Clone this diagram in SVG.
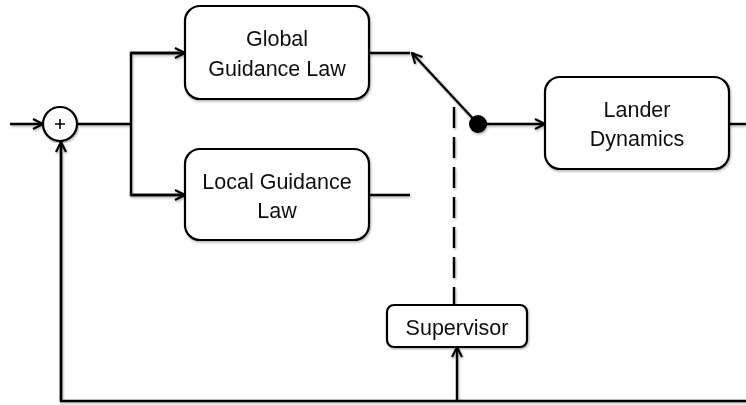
<svg xmlns="http://www.w3.org/2000/svg" width="746" height="405" viewBox="0 0 746 405">
<defs>
<marker id="arr" viewBox="0 0 12 12" refX="11" refY="6" markerWidth="12" markerHeight="12" markerUnits="userSpaceOnUse" orient="auto">
<path d="M1,1 L11,6 L1,11" fill="none" stroke="#000" stroke-width="2.2"/>
</marker>
<filter id="sh" x="-5%" y="-5%" width="110%" height="110%">
<feDropShadow dx="1" dy="1.5" stdDeviation="1" flood-color="#000" flood-opacity="0.3"/>
</filter>
</defs>
<style>
.box{fill:#fff;stroke:#000;stroke-width:2.2}
.ln{fill:none;stroke:#000;stroke-width:2.4}
.t{font-family:"Liberation Sans",Arial,sans-serif;font-size:21.5px;fill:#111;text-anchor:middle}
</style>
<rect width="746" height="405" fill="#fff"/>
<g id="connectors" filter="url(#sh)">
<line class="ln" x1="10" y1="124" x2="43" y2="124" marker-end="url(#arr)"/>
<polyline class="ln" points="77,124 131,124"/>
<polyline class="ln" points="185,53 131,53 131,195 185,195"/>
<line class="ln" x1="131" y1="53" x2="185" y2="53" marker-end="url(#arr)"/>
<line class="ln" x1="131" y1="195" x2="185" y2="195" marker-end="url(#arr)"/>
<line class="ln" x1="369" y1="53" x2="410" y2="53"/>
<line class="ln" x1="369" y1="195" x2="410" y2="195"/>
<line class="ln" x1="478" y1="124" x2="412" y2="53" marker-end="url(#arr)"/>
<line class="ln" x1="478" y1="124" x2="545" y2="124" marker-end="url(#arr)"/>
<line class="ln" x1="729" y1="124" x2="746" y2="124"/>
<polyline class="ln" points="746,401 61,401 61,142"/>
<line class="ln" x1="61" y1="401" x2="61" y2="142" marker-end="url(#arr)"/>
<line class="ln" x1="457" y1="401" x2="457" y2="347" marker-end="url(#arr)"/>
<line class="ln" x1="454" y1="107" x2="454" y2="305" stroke-dasharray="21,9"/>
<circle cx="478" cy="124" r="9" fill="#000"/>
</g>
<g id="sum" filter="url(#sh)">
<circle cx="60" cy="124" r="17" class="box"/>
<path d="M55,124 H65 M60,119 V129" stroke="#000" stroke-width="1.6"/>
</g>
<g id="global" filter="url(#sh)">
<rect class="box" x="185" y="6" width="184" height="93" rx="15"/>
<text class="t" x="277" y="46">Global</text>
<text class="t" x="277" y="76">Guidance Law</text>
</g>
<g id="local" filter="url(#sh)">
<rect class="box" x="185" y="149" width="184" height="91" rx="15"/>
<text class="t" x="277" y="189">Local Guidance</text>
<text class="t" x="277" y="218">Law</text>
</g>
<g id="lander" filter="url(#sh)">
<rect class="box" x="545" y="77" width="184" height="92" rx="15"/>
<text class="t" x="637" y="117">Lander</text>
<text class="t" x="637" y="146">Dynamics</text>
</g>
<g id="supervisor" filter="url(#sh)">
<rect class="box" x="387" y="305" width="140" height="42" rx="7"/>
<text class="t" x="457" y="335">Supervisor</text>
</g>
</svg>
